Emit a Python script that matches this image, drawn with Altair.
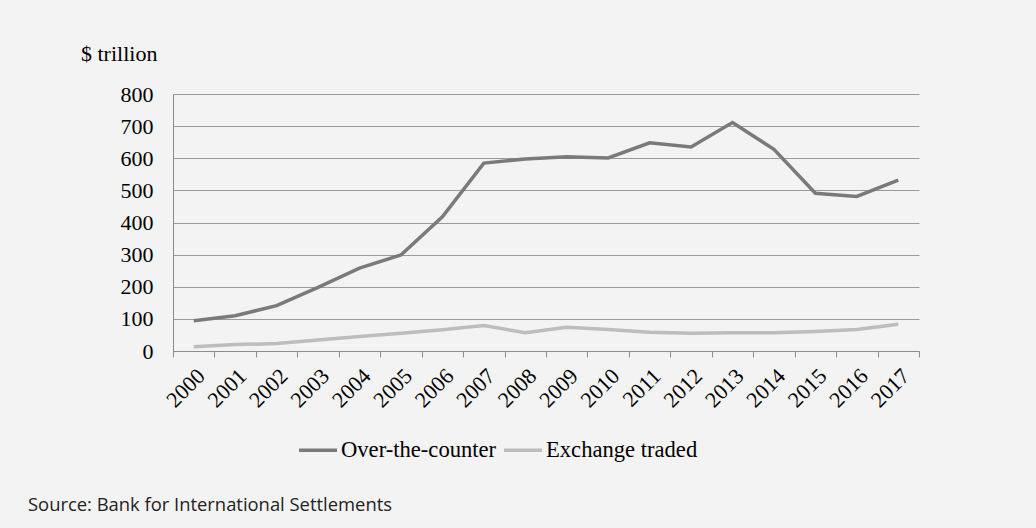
import altair as alt
import pandas as pd

years = [str(y) for y in range(2000, 2018)]
otc = [94, 110, 141, 198, 258, 299, 418, 585, 598, 605, 601, 648, 635, 711, 628, 491, 481, 532]
etd = [13, 20, 23, 34, 45, 55, 66, 79, 57, 74, 67, 58, 55, 57, 57, 61, 67, 83]
series = ["Over-the-counter", "Exchange traded"]

rows = []
for y, v in zip(years, otc):
    rows.append({"year": y, "value": v, "series": series[0]})
for y, v in zip(years, etd):
    rows.append({"year": y, "value": v, "series": series[1]})
df = pd.DataFrame(rows)

W, H = 746, 257
serif = "Liberation Serif"

lines = alt.Chart(df).mark_line(strokeWidth=3.5).encode(
    x=alt.X("year:N", sort=years, title=None,
            scale=alt.Scale(paddingInner=0, paddingOuter=0),
            axis=alt.Axis(labelAngle=-45, labelFont=serif, labelFontSize=22, labelColor="#000",
                          domainColor="#8c8c8c", tickColor="#8c8c8c", tickSize=6, tickBand="extent",
                          labelPadding=8, grid=False)),
    y=alt.Y("value:Q", title=None,
            scale=alt.Scale(domain=[0, 800], nice=False),
            axis=alt.Axis(values=[0, 100, 200, 300, 400, 500, 600, 700, 800],
                          labelFont=serif, labelFontSize=22, labelColor="#000",
                          domainColor="#8c8c8c", ticks=False, labelPadding=20,
                          gridColor="#9a9a9a", gridWidth=1)),
    color=alt.Color("series:N", scale=alt.Scale(domain=series, range=["#7a7a7a", "#bdbdbd"]),
                    title=None,
                    legend=alt.Legend(orient="none", legendX=124, legendY=335, direction="horizontal",
                                      symbolType="stroke", symbolSize=1444, symbolStrokeWidth=3.5,
                                      labelFont=serif, labelFontSize=22.6, labelColor="#000",
                                      labelOffset=2, columnPadding=0, labelLimit=400)),
)

title_df = pd.DataFrame({"t": ["$ trillion"]})
title = alt.Chart(title_df).mark_text(font=serif, fontSize=22, align="left", baseline="alphabetic",
                                      color="#000").encode(
    text="t:N", x=alt.value(-92), y=alt.value(-33))

src_df = pd.DataFrame({"t": ["Source: Bank for International Settlements"]})
src = alt.Chart(src_df).mark_text(font="Open Sans", fontSize=18.4, align="left", baseline="alphabetic",
                                  color="#222").encode(
    text="t:N", x=alt.value(-145), y=alt.value(417))

chart = alt.layer(lines, title, src).properties(
    width=W, height=H,
    background="#f3f3f3",
    padding={"left": 173, "top": 94, "right": 1036 - 173 - W, "bottom": 528 - 94 - H},
    autosize=alt.AutoSizeParams(type="none"),
).configure_view(stroke=None)

chart.save("out.html", embed_options={"renderer": "svg", "actions": False})
